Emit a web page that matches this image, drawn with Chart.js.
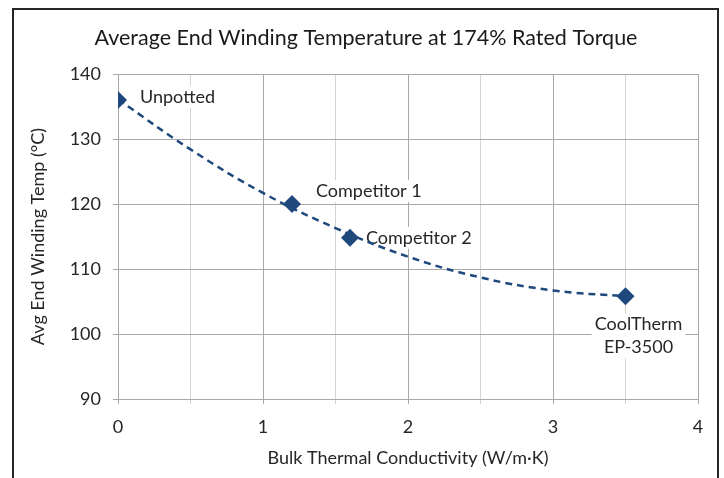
<!DOCTYPE html>
<html>
<head>
<meta charset="utf-8">
<script src="https://cdn.jsdelivr.net/npm/chart.js@4/dist/chart.umd.min.js"></script>
<style>
  html, body { margin: 0; padding: 0; background: #fff; }
  #wrap { width: 724px; height: 478px; }
</style>
</head>
<body>
<div id="wrap"><canvas id="chart" width="724" height="478"></canvas></div>
<script>
// measured points
const conductivity = [0, 1.2, 1.6, 3.5];
const windingTemp = [136, 120, 114.8, 105.8];
const pointNames = ["Unpotted", "Competitor 1", "Competitor 2", ["CoolTherm", "EP-3500"]];

// dashed trend line
const trendX = [0, 0.5, 1, 1.5, 2, 2.5, 3, 3.5];
const trendY = [136.1, 128.4, 121.7, 116.3, 111.9, 108.7, 106.7, 105.8];

const xTicks = [0, 1, 2, 3, 4];
const yTicks = [90, 100, 110, 120, 130, 140];

const BLUE = "#1f497d";
const FONT = "Lato, 'Noto Sans', sans-serif";

// where each name sits relative to its marker
const labelOffsets = [[22, -3, "left"], [24, -13, "left"], [16, 0, "left"], [13, 28, "center"]];

const pointLabels = {
  id: "pointLabels",
  beforeDatasetsDraw(chart) {
    const c = chart.ctx;
    const xs = chart.scales.x, ys = chart.scales.y;
    c.save();
    c.font = "18px " + FONT;
    c.textBaseline = "middle";
    pointNames.forEach((name, i) => {
      const lines = Array.isArray(name) ? name : [name];
      const [dx, dy, align] = labelOffsets[i];
      const px = xs.getPixelForValue(conductivity[i]) + dx;
      const py = ys.getPixelForValue(windingTemp[i]) + dy;
      lines.forEach((t, j) => {
        const w = c.measureText(t).width;
        const left = align === "center" ? px - w / 2 : px;
        const y = py + j * 23;
        c.fillStyle = "#fff";
        c.fillRect(left - 3, y - 11, w + 6, 22);
        c.fillStyle = "#262626";
        c.textAlign = "left";
        c.fillText(t, left, y);
      });
    });
    c.restore();
  }
};

const frame = {
  id: "frame",
  beforeDraw(chart) {
    const c = chart.ctx;
    c.save();
    c.fillStyle = "#fff";
    c.fillRect(0, 0, chart.width, chart.height);
    c.restore();
  },
  afterDraw(chart) {
    const c = chart.ctx;
    c.save();
    c.strokeStyle = "#262626";
    c.lineWidth = 2;
    c.beginPath();
    c.moveTo(13, 490);
    c.lineTo(13, 9);
    c.lineTo(718, 9);
    c.lineTo(718, 490);
    c.stroke();
    c.fillStyle = "#1a1a1a";
    c.font = "21.5px " + FONT;
    c.textAlign = "center";
    c.textBaseline = "middle";
    c.fillText("Average End Winding Temperature at 174% Rated Torque", 366, 38);
    c.restore();
  }
};

new Chart(document.getElementById("chart"), {
  type: "scatter",
  data: {
    datasets: [
      {
        label: "Trend",
        data: trendX.map((x, i) => ({ x: x, y: trendY[i] })),
        showLine: true,
        borderColor: BLUE,
        borderWidth: 2.5,
        borderDash: [7, 5],
        pointRadius: 0,
        tension: 0.4,
        fill: false,
        order: 2
      },
      {
        label: "Avg End Winding Temp",
        data: conductivity.map((x, i) => ({ x: x, y: windingTemp[i] })),
        pointStyle: "rectRot",
        pointRadius: 9,
        pointBackgroundColor: BLUE,
        pointBorderColor: BLUE,
        borderWidth: 0,
        order: 1
      }
    ]
  },
  options: {
    responsive: false,
    animation: false,
    layout: { padding: { left: 0, right: 26, top: 74, bottom: 0 } },
    plugins: {
      legend: { display: false },
      tooltip: { enabled: false },
      title: { display: false }
    },
    scales: {
      x: {
        type: "linear",
        min: 0,
        max: 4,
        afterBuildTicks: s => { s.ticks = []; for (let v = 0; v <= 4; v += 0.5) s.ticks.push({ value: v }); },
        ticks: {
          callback: v => (xTicks.includes(v) ? String(v) : ""),
          color: "#262626",
          font: { family: FONT, size: 18 },
          padding: 12,
          maxRotation: 0,
          autoSkip: false
        },
        grid: {
          color: ctx => (ctx.tick && ctx.tick.value % 1 === 0 ? "#a8a8a8" : "#d4d4d4"),
          lineWidth: 1,
          tickLength: 5
        },
        border: { display: false },
        title: {
          display: true,
          text: "Bulk Thermal Conductivity (W/m·K)",
          color: "#262626",
          font: { family: FONT, size: 18 },
          padding: { top: 4, bottom: 9 }
        },
        afterFit: s => { s.height = 79; }
      },
      y: {
        min: 90,
        max: 140,
        afterBuildTicks: s => { s.ticks = yTicks.map(v => ({ value: v })); },
        ticks: {
          color: "#262626",
          font: { family: FONT, size: 18 },
          padding: 12
        },
        grid: { color: "#a8a8a8", lineWidth: 1, tickLength: 5 },
        border: { display: false },
        title: {
          display: true,
          text: "Avg End Winding Temp (°C)",
          color: "#262626",
          font: { family: FONT, size: 18 },
          padding: { top: 27, bottom: 0 }
        },
        afterFit: s => { s.width = 118; }
      }
    }
  },
  plugins: [frame, pointLabels]
});
</script>
</body>
</html>
